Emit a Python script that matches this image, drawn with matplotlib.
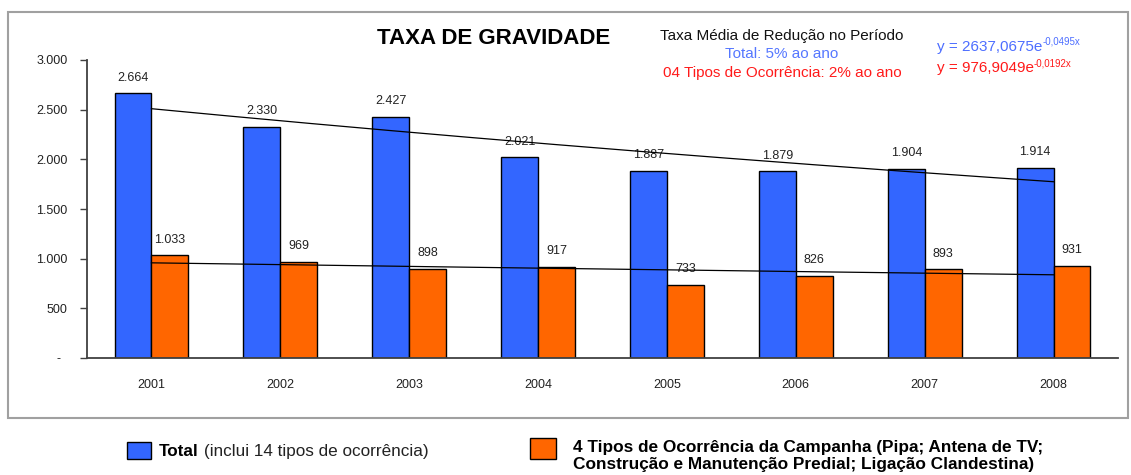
import numpy as np
import matplotlib
matplotlib.use("Agg")
import matplotlib.pyplot as plt
from matplotlib.patches import Rectangle

plt.rcParams['font.family'] = ['Liberation Sans', 'DejaVu Sans']

years = ['2001', '2002', '2003', '2004', '2005', '2006', '2007', '2008']
total = [2664, 2330, 2427, 2021, 1887, 1879, 1904, 1914]
campanha = [1033, 969, 898, 917, 733, 826, 893, 931]

blue = '#3366FF'
orange = '#FF6600'
W, H = 1131, 475

def fmt(v):
    return '{:,}'.format(v).replace(',', '.')

fig = plt.figure(figsize=(W/100, H/100), dpi=100)
ax = fig.add_axes([87/W, 117/H, 1031/W, 298/H])

x = np.arange(len(years))
w = 1 / 3.5
b1 = ax.bar(x - w/2, total, w, color=blue, edgecolor='black', linewidth=1)
b2 = ax.bar(x + w/2, campanha, w, color=orange, edgecolor='black', linewidth=1)

for bars in (b1, b2):
    for rect in bars:
        h = rect.get_height()
        ax.annotate(fmt(int(h)), (rect.get_x() + rect.get_width()/2, h),
                    xytext=(0, 7), textcoords='offset points',
                    ha='center', va='bottom', fontsize=9, color='#222222')

# exponential trendlines (fit on log of the values, like excel)
t = x + 1
xs = np.linspace(0, len(years) - 1, 200)
for vals in (total, campanha):
    k, c = np.polyfit(t, np.log(vals), 1)
    ax.plot(xs, np.exp(c) * np.exp(k * (xs + 1)), color='black', linewidth=0.9, zorder=5)

ax.set_xlim(-0.5, len(years) - 0.5)
ax.set_ylim(0, 3000)
ax.set_yticks(range(0, 3001, 500))
ax.set_yticklabels(['-  '] + [fmt(v) for v in range(500, 3001, 500)])
ax.set_xticks(x)
ax.set_xticklabels(years)
ax.tick_params(axis='y', length=5, width=1, color='#404040', pad=9, labelsize=9, labelcolor='#222222')
ax.tick_params(axis='x', length=0, pad=15, labelsize=9, labelcolor='#222222')
for s in ('top', 'right'):
    ax.spines[s].set_visible(False)
for s in ('left', 'bottom'):
    ax.spines[s].set_color('#404040')
    ax.spines[s].set_linewidth(1.3)

# outer frame
fig.patches.append(Rectangle((8/W, 57/H), 1120/W, 406/H, transform=fig.transFigure,
                             fill=False, edgecolor='#A0A0A0', linewidth=1.5))

fig.text(494/W, 1 - 38/H, 'TAXA DE GRAVIDADE', ha='center', va='center',
         fontsize=16, fontweight='bold')
fig.text(782/W, 1 - 36/H, 'Taxa Média de Redução no Período', ha='center', va='center',
         fontsize=11, color='#111111')
fig.text(782/W, 1 - 54/H, 'Total: 5% ao ano', ha='center', va='center',
         fontsize=11, color='#5577FF')
fig.text(782/W, 1 - 73/H, '04 Tipos de Ocorrência: 2% ao ano', ha='center', va='center',
         fontsize=11, color='#FF1A1A')

# trendline equations, superscript placed right after the base text
renderer = fig.canvas.get_renderer()
for base, sup, ypix, col in [('y = 2637,0675e', '-0,0495x', 51, '#4D6EFF'),
                              ('y = 976,9049e', '-0,0192x', 72, '#FF1A1A')]:
    tb = fig.text(937/W, 1 - ypix/H, base, ha='left', va='baseline', fontsize=11, color=col)
    bb = tb.get_window_extent(renderer)
    fig.text(bb.x1/W, 1 - (ypix - 6)/H, sup, ha='left', va='baseline', fontsize=7, color=col)

# legend
fig.patches.append(Rectangle((127/W, 1 - 459/H), 24/W, 17/H, transform=fig.transFigure,
                             facecolor=blue, edgecolor='black', linewidth=1))
tt = fig.text(159/W, 1 - 456/H, 'Total', ha='left', va='baseline', fontsize=12.3, fontweight='bold')
bb = tt.get_window_extent(renderer)
fig.text(bb.x1/W + 5/W, 1 - 456/H, '(inclui 14 tipos de ocorrência)', ha='left', va='baseline',
         fontsize=12.3, color='#222222')
fig.patches.append(Rectangle((530/W, 1 - 459/H), 26/W, 21/H, transform=fig.transFigure,
                             facecolor=orange, edgecolor='black', linewidth=1))
fig.text(573/W, 1 - 452/H, '4 Tipos de Ocorrência da Campanha (Pipa; Antena de TV;',
         ha='left', va='baseline', fontsize=12.4, fontweight='bold')
fig.text(573/W, 1 - 469/H, 'Construção e Manutenção Predial; Ligação Clandestina)',
         ha='left', va='baseline', fontsize=12.4, fontweight='bold')

fig.savefig('out.png', dpi=100)
